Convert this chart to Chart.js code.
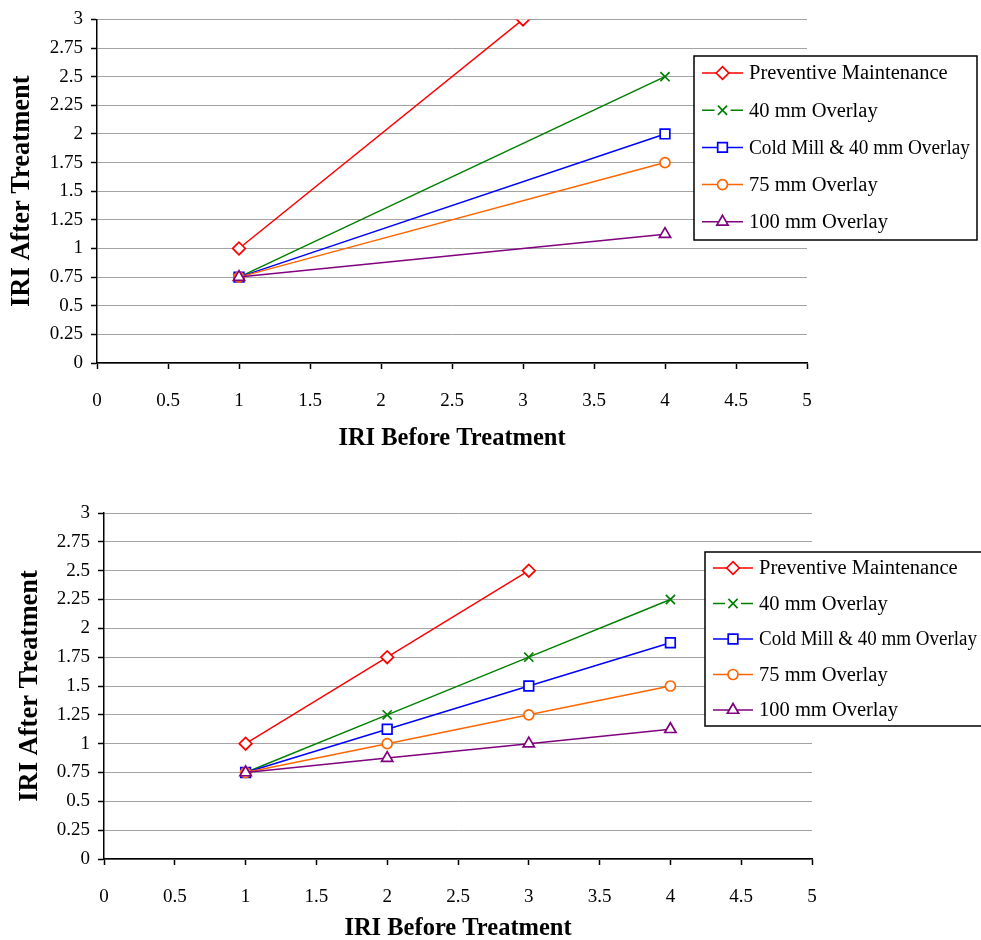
<!DOCTYPE html>
<html>
<head>
<meta charset="utf-8">
<script src="https://cdn.jsdelivr.net/npm/chart.js@4.4.1/dist/chart.umd.min.js"></script>
<style>
  html, body { margin: 0; padding: 0; background: #ffffff; overflow: hidden; }
  .panel { position: absolute; left: 0; width: 981px; }
  #panelA { top: 0; height: 470px; }
  #panelB { top: 470px; height: 473px; }
</style>
</head>
<body>
<div class="panel" id="panelA"><canvas id="chartA" width="981" height="470"></canvas></div>
<div class="panel" id="panelB"><canvas id="chartB" width="981" height="473"></canvas></div>
<script>
// IRI before treatment (x positions shared by every series)
const iriBefore = [1, 2, 3, 4];

const seriesNames = [
  'Preventive Maintenance',
  '40 mm Overlay',
  'Cold Mill & 40 mm Overlay',
  '75 mm Overlay',
  '100 mm Overlay'
];

// Upper panel: IRI after treatment
const upperPreventive = [1, null, 3, null];
const upperOverlay40  = [0.75, null, null, 2.5];
const upperColdMill   = [0.75, null, null, 2];
const upperOverlay75  = [0.75, null, null, 1.75];
const upperOverlay100 = [0.75, null, null, 1.125];

// Lower panel: IRI after treatment
const lowerPreventive = [1, 1.75, 2.5, null];
const lowerOverlay40  = [0.75, 1.25, 1.75, 2.25];
const lowerColdMill   = [0.75, 1.125, 1.5, 1.875];
const lowerOverlay75  = [0.75, 1, 1.25, 1.5];
const lowerOverlay100 = [0.75, 0.875, 1, 1.125];

const xTitle = 'IRI Before Treatment';
const yTitle = 'IRI After Treatment';

const seriesStyles = [
  { color: '#ff0000', pointStyle: 'rectRot', radius: 6.3, order: 5 },
  { color: '#008000', pointStyle: 'crossRot', radius: 6.5, order: 4 },
  { color: '#0000ff', pointStyle: 'rect', radius: 6.8, order: 3 },
  { color: '#ff6600', pointStyle: 'circle', radius: 5, order: 2 },
  { color: '#800080', pointStyle: 'triangle', radius: 6.5, order: 1 }
];

const FONT = "'Liberation Serif', 'Times New Roman', serif";

// Plain decimal tick text: 0, 0.25, 0.5 ... 2.75, 3
function tickText(value) {
  return String(parseFloat(Number(value).toFixed(3)));
}

function buildDatasets(valueSets) {
  return valueSets.map((vals, i) => {
    const s = seriesStyles[i];
    return {
      label: seriesNames[i],
      data: iriBefore.map((x, k) => ({ x: x, y: vals[k] })),
      borderColor: s.color,
      backgroundColor: '#ffffff',
      pointBorderColor: s.color,
      pointBackgroundColor: '#ffffff',
      pointStyle: s.pointStyle,
      pointRadius: s.radius,
      pointBorderWidth: 1.7,
      borderWidth: 1.5,
      showLine: true,
      spanGaps: true,
      order: s.order
    };
  });
}

// Boxed legend drawn over the right part of the plot
const boxLegend = {
  id: 'boxLegend',
  afterDraw(chart, args, opts) {
    const ctx = chart.ctx;
    ctx.save();
    ctx.fillStyle = '#ffffff';
    ctx.fillRect(opts.x, opts.y, opts.w, opts.h);
    ctx.strokeStyle = '#000000';
    ctx.lineWidth = 1.5;
    ctx.strokeRect(opts.x, opts.y, opts.w, opts.h);
    chart.data.datasets.forEach((ds, i) => {
      const s = seriesStyles[i];
      const cy = opts.y + opts.firstRow + i * opts.rowH;
      const x0 = opts.x + opts.lineStart;
      const x1 = x0 + opts.lineLen;
      const mx = (x0 + x1) / 2;
      ctx.strokeStyle = s.color;
      ctx.lineWidth = 1.5;
      ctx.beginPath();
      if (s.pointStyle === 'crossRot') {
        ctx.moveTo(x0, cy); ctx.lineTo(mx - 8, cy);
        ctx.moveTo(mx + 8, cy); ctx.lineTo(x1, cy);
      } else {
        ctx.moveTo(x0, cy); ctx.lineTo(x1, cy);
      }
      ctx.stroke();
      ctx.fillStyle = '#ffffff';
      ctx.lineWidth = 1.7;
      Chart.helpers.drawPoint(ctx, { pointStyle: s.pointStyle, radius: s.radius, rotation: 0, borderWidth: 1.7 }, mx, cy);
      ctx.fillStyle = '#000000';
      ctx.font = opts.fontSize + 'px ' + FONT;
      ctx.textBaseline = 'middle';
      ctx.textAlign = 'left';
      ctx.fillText(ds.label, opts.x + opts.textStart, cy + 1, opts.textMax);
    });
    ctx.restore();
  }
};

function makeChart(canvasId, valueSets, geo) {
  return new Chart(document.getElementById(canvasId), {
    type: 'scatter',
    data: { datasets: buildDatasets(valueSets) },
    plugins: [boxLegend],
    options: {
      responsive: false,
      animation: false,
      events: [],
      layout: { padding: { top: geo.top, right: 981 - geo.right, bottom: 0, left: 0 } },
      plugins: {
        legend: { display: false },
        tooltip: { enabled: false },
        boxLegend: geo.legend
      },
      scales: {
        x: {
          type: 'linear',
          min: 0, max: 5,
          ticks: { stepSize: 0.5, color: '#000', font: { family: FONT, size: 19 }, padding: geo.xTickPad, maxRotation: 0, callback: tickText },
          grid: { drawOnChartArea: false, drawTicks: true, tickLength: 6, tickColor: '#000', tickWidth: 1.5 },
          border: { color: '#000', width: 1.5 },
          title: { display: true, text: xTitle, color: '#000', font: { family: FONT, size: 24.5, weight: 'bold' }, padding: { top: 0, bottom: geo.xTitlePad } },
          afterFit(scale) { scale.height = geo.xHeight; }
        },
        y: {
          type: 'linear',
          min: 0, max: 3,
          ticks: { stepSize: 0.25, color: '#000', font: { family: FONT, size: 19 }, padding: 8, callback: tickText },
          grid: { color: '#a3a3a3', lineWidth: 1, drawTicks: true, tickLength: 6, tickColor: '#000', tickWidth: 1.5 },
          border: { color: '#000', width: 1.5 },
          title: { display: true, text: yTitle, color: '#000', font: { family: FONT, size: 26.5, weight: 'bold' }, padding: { top: geo.yTitlePad, bottom: 0 } },
          afterFit(scale) { scale.width = geo.left; }
        }
      }
    }
  });
}

makeChart('chartA',
  [upperPreventive, upperOverlay40, upperColdMill, upperOverlay75, upperOverlay100],
  { top: 19, right: 807, left: 97, xHeight: 107, xTickPad: 21, xTitlePad: 17, yTitlePad: 6,
    legend: { x: 694, y: 56, w: 283, h: 184, firstRow: 17, rowH: 37.2, lineStart: 8, lineLen: 41, textStart: 55, textMax: 221, fontSize: 20.5 } });

makeChart('chartB',
  [lowerPreventive, lowerOverlay40, lowerColdMill, lowerOverlay75, lowerOverlay100],
  { top: 43, right: 812, left: 104, xHeight: 84, xTickPad: 21, xTitlePad: 0, yTitlePad: 14,
    legend: { x: 705, y: 82, w: 280, h: 174, firstRow: 16, rowH: 35.5, lineStart: 8, lineLen: 40, textStart: 54, textMax: 218, fontSize: 20.5 } });
</script>
</body>
</html>
